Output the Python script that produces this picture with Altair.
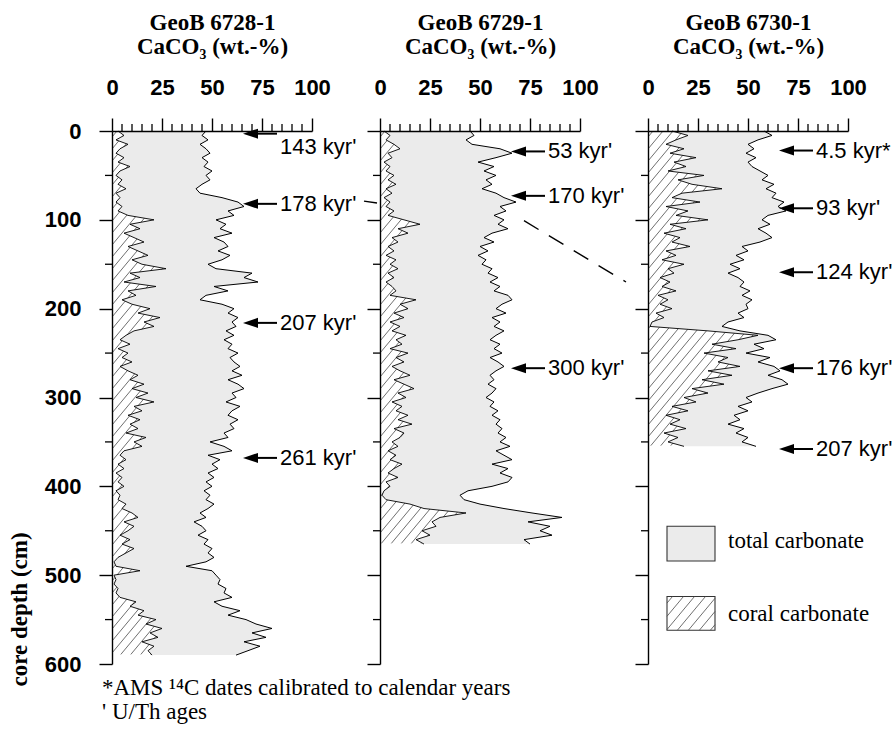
import altair as alt
import pandas as pd

STEP_CM = 5  # sampling interval of the carbonate records (cm)

# ---------------- GeoB 6728-1 (0-590 cm) ----------------
total_6728 = [
    47, 45, 48, 44, 47, 49, 45, 48, 46, 50,
    47, 49, 45, 42, 44, 55, 63, 66, 58, 61,
    52, 57, 54, 60, 51, 56, 58, 53, 59, 55,
    48, 52, 70, 66, 73, 51, 58, 47, 44, 55,
    61, 58, 63, 60, 62, 57, 61, 56, 60, 58,
    63, 59, 61, 64, 60, 65, 58, 63, 66, 60,
    62, 57, 64, 60, 58, 63, 59, 61, 56, 58,
    49, 56, 60, 48, 54, 50, 53, 48, 51, 47,
    50, 46, 49, 47, 51, 48, 44, 47, 41, 45,
    47, 43, 48, 46, 50, 48, 51, 47, 37, 50,
    52, 54, 53, 57, 56, 60, 51, 55, 64, 58,
    67, 72, 80, 70, 77, 66, 74, 68, 62,
]
coral_6728 = [
    3, 6, 2, 8, 4, 2, 6, 3, 9, 4,
    2, 5, 3, 7, 2, 4, 2, 5, 3, 8,
    21, 9, 14, 6, 11, 16, 8, 13, 18, 10,
    15, 27, 9, 14, 6, 22, 8, 12, 5, 10,
    19, 13, 24, 16, 21, 11, 7, 4, 9, 3,
    8, 5, 10, 4, 8, 13, 9, 16, 10, 18,
    12, 21, 11, 15, 8, 14, 9, 13, 7, 17,
    11, 15, 6, 4, 7, 3, 6, 2, 5, 3,
    6, 2, 4, 3, 7, 5, 10, 13, 6, 11,
    8, 4, 9, 5, 11, 7, 3, 1, 2, 14,
    1, 2, 1, 3, 2, 4, 12, 9, 16, 13,
    22, 17, 25, 19, 23, 15, 21, 18, 20,
]
ages_6728 = ["143 kyr'", "178 kyr'", "207 kyr'", "261 kyr'"]
age_depth_6728 = [3, 82, 216, 368]
label_depth_6728 = [18, 82, 216, 368]

# ---------------- GeoB 6729-1 (0-465 cm) ----------------
total_6729 = [
    45, 47, 43, 46, 60, 66, 58, 49, 57, 52,
    58, 53, 56, 51, 58, 62, 68, 60, 63, 57,
    62, 59, 64, 56, 52, 57, 50, 54, 49, 53,
    51, 56, 54, 59, 55, 60, 57, 64, 66, 61,
    58, 63, 56, 60, 57, 62, 58, 55, 60, 57,
    61, 55, 59, 62, 58, 55, 57, 54, 58, 56,
    53, 57, 55, 59, 56, 60, 58, 61, 59, 63,
    60, 65, 58, 62, 66, 56, 64, 60, 66, 64,
    56, 44, 40, 42, 50, 62, 76, 91, 74, 85,
    80, 86, 72, 75,
]
coral_6729 = [
    2, 5, 3, 7, 10, 4, 6, 2, 5, 3,
    7, 4, 8, 3, 6, 2, 5, 3, 7, 4,
    12, 20, 9, 14, 6, 9, 4, 7, 3, 8,
    5, 9, 4, 7, 3, 6, 8, 5, 18, 10,
    14, 7, 12, 5, 10, 6, 13, 8, 11, 5,
    14, 8, 12, 6, 10, 15, 7, 12, 17, 9,
    13, 6, 11, 8, 14, 9, 16, 7, 12, 10,
    6, 9, 4, 8, 5, 11, 7, 4, 9, 3,
    5, 2, 1, 3, 15, 22, 43, 30, 26, 28,
    21, 25, 18, 22,
]
ages_6729 = ["53 kyr'", "170 kyr'", "300 kyr'"]
age_depth_6729 = [23, 73, 267]
label_depth_6729 = [23, 73, 267]

# ---------------- GeoB 6730-1 (0-355 cm) ----------------
total_6730 = [
    58, 62, 55, 50, 53, 49, 54, 50, 52, 56,
    60, 57, 63, 59, 64, 62, 68, 65, 69, 60,
    57, 61, 55, 59, 62, 56, 47, 50, 44, 48,
    41, 46, 40, 45, 48, 46, 51, 47, 52, 49,
    50, 45, 48, 40, 37, 46, 60, 64, 53, 58,
    49, 61, 55, 63, 66, 60, 67, 70, 62, 55,
    49, 52, 45, 50, 43, 46, 40, 48, 44, 50,
    47, 54,
]
coral_6730 = [
    12, 20, 14, 9, 18, 11, 24, 13, 19, 10,
    28, 15, 22, 37, 17, 12, 26, 9, 20, 14,
    30, 11, 19, 8, 16, 12, 21, 9, 14, 7,
    18, 10, 13, 6, 11, 7, 14, 5, 10, 6,
    12, 4, 8, 2, 1, 30, 55, 45, 32, 44,
    28, 40, 35, 46, 30, 42, 27, 38, 22, 30,
    18, 24, 12, 20, 9, 16, 11, 19, 8, 15,
    10, 18,
]
ages_6730 = ["4.5 kyr*", "93 kyr'", "124 kyr'", "176 kyr'", "207 kyr'"]
age_depth_6730 = [22, 87, 159, 267, 358]
label_depth_6730 = [22, 87, 159, 267, 358]

legend_labels = ["total carbonate", "coral carbonate"]
footnotes = ["*AMS \u00b9\u2074C dates calibrated to calendar years", "' U/Th ages"]

# ---------------- layout and style ----------------
W, H = 200, 533
X_PER_UNIT = W / 100.0
Y_PER_CM = H / 600.0

X_SCALE = alt.Scale(domain=[0, 100], nice=False, zero=False)
Y_SCALE = alt.Scale(domain=[0, 600], reverse=True, nice=False, zero=False)

X_MAJOR = [0, 25, 50, 75, 100]
X_MINOR = [5, 10, 15, 20, 30, 35, 40, 45, 55, 60, 65, 70, 80, 85, 90, 95]
Y_MAJOR = [0, 100, 200, 300, 400, 500, 600]
Y_MINOR = [50, 150, 250, 350, 450, 550]

SANS = "Liberation Sans"
SERIF = "Liberation Serif"
INK = "black"
GREY = "#ebebeb"
HATCH_INK = "#4a4a4a"

ARROW_TIP = 65.5
HEAD_PX = 15
HEAD_X = ARROW_TIP + HEAD_PX / 2 / X_PER_UNIT
SHAFT_END = 82.5
LABEL_X = 84
ARROW_HEAD = "M -1 0 L 1 -0.67 L 1 0.67 Z"


def hatch_segments(x0, x1, d0, d1, spacing=10.0, slope=1.2):
    """Diagonal '/' hatch lines clipped to a box given in data units."""
    X0, X1 = x0 * X_PER_UNIT, x1 * X_PER_UNIT
    Y0, Y1 = d0 * Y_PER_CM, d1 * Y_PER_CM
    rows = []
    c = X0 + Y0 / slope + spacing / 2
    while c < X1 + Y1 / slope:
        ya = max(Y0, slope * (c - X1))
        yb = min(Y1, slope * (c - X0))
        if yb > ya:
            rows.append({
                "hx": (c - ya / slope) / X_PER_UNIT,
                "hx2": (c - yb / slope) / X_PER_UNIT,
                "hd": ya / Y_PER_CM,
                "hd2": yb / Y_PER_CM,
            })
        c += spacing
    return pd.DataFrame(rows)


def x_axis(title):
    return alt.Axis(
        orient="top", values=X_MAJOR, format="d", grid=False,
        domainColor=INK, domainWidth=1.4, tickColor=INK, tickWidth=1.4, tickSize=13,
        labelFont=SANS, labelFontSize=22, labelFontWeight="bold", labelColor=INK,
        labelPadding=19, labelFlush=False, labelOverlap=False,
        title=title, titleFont=SERIF, titleFontSize=23, titleFontWeight="bold",
        titleColor=INK, titleLineHeight=24, titleBaseline="alphabetic",
        titleAlign="center", titleX=W / 2, titleY=-102, zindex=1,
    )


def y_axis(with_labels):
    kw = dict(
        values=Y_MAJOR, format="d", grid=False,
        domainColor=INK, domainWidth=1.4, tickColor=INK, tickWidth=1.4, tickSize=13,
        labels=with_labels, labelFlush=False, labelOverlap=False, zindex=1,
    )
    if with_labels:
        kw.update(
            labelFont=SANS, labelFontSize=22, labelFontWeight="bold", labelColor=INK,
            labelPadding=18, title="core depth (cm)", titleFont=SERIF, titleFontSize=23,
            titleFontWeight="bold", titleColor=INK, titleAngle=270, titleX=-93,
            titleY=478, titleAlign="center", titleBaseline="middle",
        )
    else:
        kw.update(title=None)
    return alt.Axis(**kw)


class Panel:
    """One core: shared scales and identical axes in every layer."""

    def __init__(self, title, first):
        self.xax = x_axis(title)
        self.yax = y_axis(first)
        self.layers = []

    def x(self, field):
        return alt.X(field, type="quantitative", scale=X_SCALE, axis=self.xax)

    def y(self, field):
        return alt.Y(field, type="quantitative", scale=Y_SCALE, axis=self.yax)

    def xd(self, v):
        return alt.XDatum(v, scale=X_SCALE, axis=self.xax)

    def add(self, layer):
        self.layers.append(layer)

    def chart(self):
        return alt.layer(*self.layers).properties(width=W, height=H)


def core_panel(title, total, coral, ages, age_depth, label_depth, first):
    p = Panel(title, first)
    depth = [STEP_CM * i for i in range(len(total))]
    rec = pd.DataFrame({"depth": depth, "total": total, "coral": coral})

    # coral hatching, later masked by the grey and white bands
    p.add(alt.Chart(hatch_segments(0, 100, 0, depth[-1] - 0.8)).mark_rule(
        clip=True, color=HATCH_INK, strokeWidth=0.8
    ).encode(x=p.x("hx"), x2="hx2:Q", y=p.y("hd"), y2="hd2:Q"))
    p.add(alt.Chart(rec).mark_area(orient="horizontal", color=GREY, opacity=1).encode(
        y=p.y("depth"), x=p.x("coral"), x2="total:Q"))
    p.add(alt.Chart(rec).mark_area(orient="horizontal", color="white", opacity=1).encode(
        y=p.y("depth"), x=p.x("total"), x2=alt.X2Datum(100)))
    p.add(alt.Chart(rec).mark_line(color=INK, strokeWidth=0.9).encode(
        y=p.y("depth"), x=p.x("coral"), order="depth:Q"))
    p.add(alt.Chart(rec).mark_line(color=INK, strokeWidth=1.0).encode(
        y=p.y("depth"), x=p.x("total"), order="depth:Q"))

    # minor ticks on both axes
    p.add(alt.Chart(pd.DataFrame({"v": X_MINOR})).mark_rule(color=INK, strokeWidth=1.3)
          .encode(x=p.x("v"), y=alt.value(0), y2=alt.value(-7)))
    p.add(alt.Chart(pd.DataFrame({"v": Y_MINOR})).mark_rule(color=INK, strokeWidth=1.3)
          .encode(y=p.y("v"), x=alt.value(0), x2=alt.value(-7)))

    # age control points
    a = pd.DataFrame({"label": ages, "depth": age_depth, "ldepth": label_depth})
    p.add(alt.Chart(a).mark_rule(color=INK, strokeWidth=2).encode(
        y=p.y("depth"), x=p.xd(HEAD_X), x2=alt.X2Datum(SHAFT_END)))
    p.add(alt.Chart(a).mark_point(
        shape=ARROW_HEAD, filled=True, size=HEAD_PX * HEAD_PX, color=INK,
        opacity=1, strokeWidth=0,
    ).encode(y=p.y("depth"), x=p.xd(HEAD_X)))
    p.add(alt.Chart(a).mark_text(
        align="left", baseline="middle", font=SANS, fontSize=22, color=INK
    ).encode(y=p.y("ldepth"), x=p.xd(LABEL_X), text="label:N"))
    return p


# ---- GeoB 6728-1 panel, with the footnote beneath it ----
P1 = core_panel(["GeoB 6728-1", "CaCO\u2083 (wt.-%)"], total_6728, coral_6728,
                ages_6728, age_depth_6728, label_depth_6728, True)
for i, line in enumerate(footnotes):
    P1.add(alt.Chart(pd.DataFrame({"t": [line]})).mark_text(
        align="left", baseline="alphabetic", font=SERIF, fontSize=23, color=INK
    ).encode(x=alt.value(-10), y=alt.value(564 + 24 * i), text="t:N"))

# ---- GeoB 6729-1 panel, with the tie lines to the neighbouring cores ----
P2 = core_panel(["GeoB 6729-1", "CaCO\u2083 (wt.-%)"], total_6729, coral_6729,
                ages_6729, age_depth_6729, label_depth_6729, False)
tie_right = pd.DataFrame({"x": [72, 123], "d": [101, 170]})
tie_left = pd.DataFrame({"x": [-8, -1.5], "d": [79, 81]})
for tie in (tie_right, tie_left):
    P2.add(alt.Chart(tie).mark_line(
        color=INK, strokeWidth=1.4, strokeDash=[17, 12], clip=False
    ).encode(x=P2.x("x"), y=P2.y("d"), order="d:Q"))

# ---- GeoB 6730-1 panel, with the legend ----
P3 = core_panel(["GeoB 6730-1", "CaCO\u2083 (wt.-%)"], total_6730, coral_6730,
                ages_6730, age_depth_6730, label_depth_6730, False)
BOX_X0, BOX_X1 = 9.5, 33.5
boxes = pd.DataFrame({
    "label": legend_labels,
    "top": [445, 524],
    "bottom": [484, 562],
    "mid": [462, 544],
    "fill": [GREY, "white"],
})
P3.add(alt.Chart(boxes).mark_rect(stroke="#333333", strokeWidth=1.1, opacity=1).encode(
    x=P3.xd(BOX_X0), x2=alt.X2Datum(BOX_X1), y=P3.y("top"), y2="bottom:Q",
    fill=alt.Fill("fill:N", scale=None)))
P3.add(alt.Chart(hatch_segments(BOX_X0, BOX_X1, 524, 562, spacing=11.0)).mark_rule(
    color=HATCH_INK, strokeWidth=0.8
).encode(x=P3.x("hx"), x2="hx2:Q", y=P3.y("hd"), y2="hd2:Q"))
P3.add(alt.Chart(boxes).mark_text(
    align="left", baseline="middle", font=SERIF, fontSize=23, color=INK
).encode(x=P3.xd(40), y=P3.y("mid"), text="label:N"))

chart = alt.hconcat(P1.chart(), P2.chart(), P3.chart(), spacing=68, bounds="flush").properties(
    padding={"left": 8, "top": 11, "right": 0, "bottom": 0}
).configure_view(stroke=None)

chart.save("out.html", embed_options={"renderer": "svg", "actions": False})
